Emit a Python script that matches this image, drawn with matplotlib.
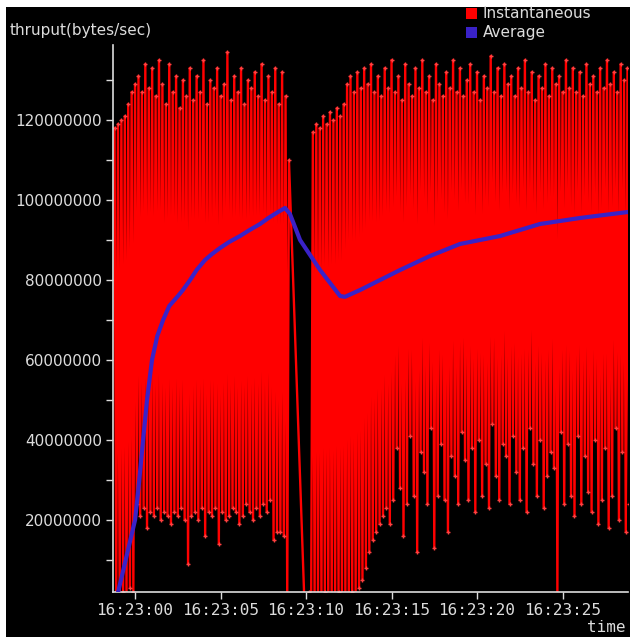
import matplotlib.pyplot as plt
import numpy as np
from matplotlib.ticker import MultipleLocator, FuncFormatter
from matplotlib.patches import Rectangle

# instantaneous throughput (millions of bytes/sec), sampled every 0.1 s
inst1_start = -1.2
inst1 = [118, 1, 119, 0, 120, 2, 121, 1, 124, 3, 127, 2, 129, 24, 131, 21, 127, 23, 134, 18,
         128, 22, 133, 21, 126, 23, 135, 20, 129, 22, 124, 21, 134, 19, 127, 22, 131, 21, 123, 23,
         130, 20, 126, 9, 133, 21, 125, 22, 131, 20, 127, 23, 135, 16, 124, 22, 130, 21, 128, 23,
         133, 14, 126, 22, 129, 20, 137, 21, 125, 23, 131, 22, 127, 19, 133, 21, 124, 24, 130, 22,
         128, 20, 132, 23, 126, 21, 134, 24, 125, 22, 131, 25, 127, 15, 133, 17, 124, 17, 132, 16,
         126, 0, 110]
inst2_start = 9.9
inst2 = [0, 1, 0, 2, 0, 117, 0, 119, 1, 118, 0, 121, 2, 119, 0, 122, 1, 120, 0, 123,
         2, 121, 0, 124, 1, 129, 0, 131, 2, 127, 1, 132, 3, 128, 5, 133, 8, 129, 12, 134,
         15, 127, 17, 131, 19, 126, 21, 133, 23, 128, 19, 135, 25, 127, 38, 131, 28, 125, 16, 134,
         24, 129, 41, 126, 26, 133, 12, 128, 37, 135, 32, 127, 24, 131, 43, 125, 13, 134, 26, 129,
         39, 126, 25, 132, 17, 128, 36, 135, 31, 127, 24, 133, 42, 126, 35, 130, 25, 134, 38, 127,
         22, 132, 40, 125, 26, 131, 34, 128, 23, 136, 44, 127, 31, 133, 25, 126, 39, 134, 36, 129,
         24, 131, 41, 126, 32, 133, 25, 128, 38, 135, 22, 127, 43, 132, 34, 125, 26, 131, 40, 128,
         23, 134, 31, 126, 37, 133, 33, 129, 1, 131, 42, 127, 24, 135, 39, 128, 26, 133, 21, 127,
         41, 132, 24, 126, 36, 134, 27, 129, 22, 131, 40, 127, 19, 133, 25, 128, 38, 135, 18, 129,
         26, 132, 43, 127, 20, 134, 37, 130, 17, 133, 24, 128]

# running average (seconds, millions of bytes/sec)
avg_t = [-0.99, 0.0, 0.2, 0.47, 0.7, 0.99, 1.3, 1.64, 2.0, 2.51, 2.8, 3.22, 3.6, 4.09, 4.5,
         4.97, 5.5, 6.14, 6.7, 7.31, 7.8, 8.36, 8.77,
         9.06, 9.65, 10.82, 11.99, 12.28, 13.16, 14.33, 15.5, 17.25, 19.0, 21.35, 23.68,
         26.02, 28.83]
avg_v = [2, 20, 28, 40, 50, 60, 66, 70, 73.5, 76, 77.5, 80, 82.5, 85, 86.5,
         88, 89.5, 91, 92.5, 94, 95.5, 97, 98,
         96.5, 90, 82.5, 76, 75.8, 77.5, 80, 82.5, 86, 89, 91, 94,
         95.5, 97]

xticks = [0, 5, 10, 15, 20, 25]

t1 = np.round(inst1_start + 0.1 * np.arange(len(inst1)), 2)
t2 = np.round(inst2_start + 0.1 * np.arange(len(inst2)), 2)
inst_t = np.concatenate([t1, t2])
inst_v = np.concatenate([inst1, inst2]) * 1e6

W, H = 636, 637
fig = plt.figure(figsize=(W / 100, H / 100), dpi=100, facecolor='white')
fig.patches.append(Rectangle((6 / W, 0), 624 / W, 630 / H, transform=fig.transFigure,
                             facecolor='black', edgecolor='none', zorder=-10))

ax = fig.add_axes([113 / W, 1 - 592 / H, (628 - 113) / W, (592 - 45) / H])
ax.set_facecolor('black')

ax.plot(inst_t, inst_v, color='#ff0000', lw=1.7, marker='+', ms=3, mec='#ff4040', zorder=2)
ax.plot(avg_t, np.array(avg_v) * 1e6, color='#3a22c8', lw=3, zorder=3)

ax.set_xlim(-1.29, 28.83)
ax.set_ylim(2e6, 138.75e6)

fg = '#dcdcdc'
for s in ['top', 'right']:
    ax.spines[s].set_visible(False)
for s in ['left', 'bottom']:
    ax.spines[s].set_color(fg)
    ax.spines[s].set_linewidth(1.2)

ax.yaxis.set_major_locator(MultipleLocator(20e6))
ax.yaxis.set_minor_locator(MultipleLocator(10e6))
ax.yaxis.set_major_formatter(FuncFormatter(lambda v, p: '%d' % v))
ax.set_xticks(xticks)
ax.xaxis.set_major_formatter(FuncFormatter(lambda v, p: '16:23:%02d' % v))

ax.tick_params(axis='y', which='both', colors=fg, length=5, width=1, labelsize=11, pad=3)
ax.tick_params(axis='x', colors=fg, length=5, width=1, labelsize=11.5, pad=3)
for lab in ax.get_xticklabels():
    lab.set_family('DejaVu Sans Mono')

fig.text(10 / W, 1 - 30 / H, 'thruput(bytes/sec)', color=fg, fontsize=11, va='center', ha='left')
fig.text(625 / W, 1 - 628 / H, 'time', color=fg, fontsize=11.5, va='center', ha='right',
         family='DejaVu Sans Mono')

# legend
fig.patches.append(Rectangle((466 / W, 1 - 19 / H), 11 / W, 11 / H, transform=fig.transFigure,
                             facecolor='#ff0000', edgecolor='none'))
fig.patches.append(Rectangle((466 / W, 1 - 38 / H), 11 / W, 11 / H, transform=fig.transFigure,
                             facecolor='#3a22c8', edgecolor='none'))
fig.text(483 / W, 1 - 13 / H, 'Instantaneous', color=fg, fontsize=11, va='center', ha='left')
fig.text(483 / W, 1 - 33 / H, 'Average', color=fg, fontsize=11, va='center', ha='left')

fig.savefig('out.png', dpi=100, facecolor='white')
